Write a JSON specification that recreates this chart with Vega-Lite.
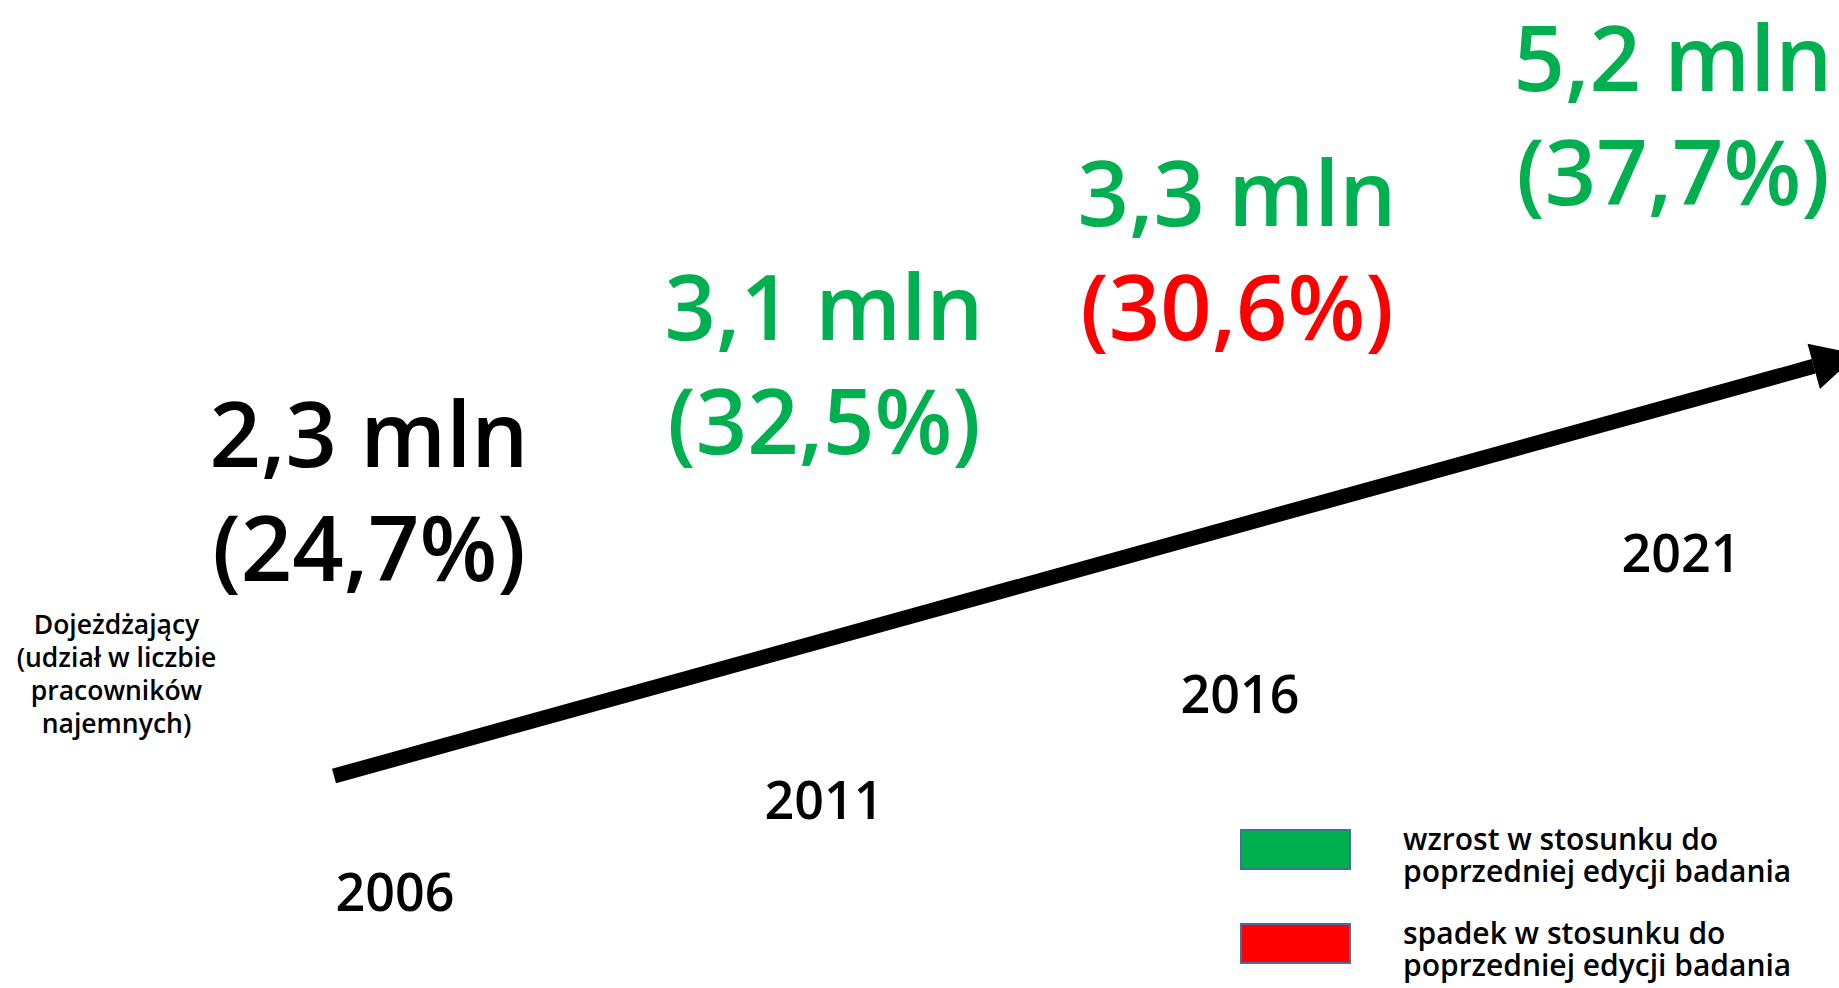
{
  "$schema": "https://vega.github.io/schema/vega-lite/v6.json",
  "width": 1839,
  "height": 988,
  "autosize": {"type": "none"},
  "padding": 0,
  "background": "#ffffff",
  "config": {
    "view": {"stroke": null},
    "text": {"font": "Open Sans"},
    "legend": {
      "orient": "none",
      "legendX": 1240,
      "legendY": 794,
      "padding": 0,
      "symbolType": "M-1,-0.358H1V0.358H-1Z",
      "symbolSize": 11881,
      "symbolStrokeColor": "#41719C",
      "symbolStrokeWidth": 2,
      "symbolOpacity": 1,
      "labelFont": "Open Sans",
      "labelFontWeight": 600,
      "labelFontSize": 30,
      "labelLineHeight": 35,
      "labelOffset": 52,
      "labelLimit": 0,
      "labelBaseline": "alphabetic",
      "labelColor": "#000000",
      "rowPadding": -14
    }
  },
  "datasets": {
    "editions": [
      {"rok": 2006, "liczba": "2,3 mln", "udzial": "(24,7%)", "zmianaLiczby": "brak", "zmianaUdzialu": "brak"},
      {"rok": 2011, "liczba": "3,1 mln", "udzial": "(32,5%)", "zmianaLiczby": "wzrost", "zmianaUdzialu": "wzrost"},
      {"rok": 2016, "liczba": "3,3 mln", "udzial": "(30,6%)", "zmianaLiczby": "wzrost", "zmianaUdzialu": "spadek"},
      {"rok": 2021, "liczba": "5,2 mln", "udzial": "(37,7%)", "zmianaLiczby": "wzrost", "zmianaUdzialu": "wzrost"}
    ],
    "trend": [{"t": 0}, {"t": 1}]
  },
  "resolve": {"scale": {"x": "independent", "y": "independent"}},
  "layer": [
    {
      "data": {"name": "trend"},
      "mark": {"type": "line", "color": "#000000", "strokeWidth": 15, "strokeCap": "butt"},
      "encoding": {
        "x": {"field": "t", "type": "quantitative", "scale": {"domain": [0, 1], "range": [334, 1813.7]}, "axis": null},
        "y": {"field": "t", "type": "quantitative", "scale": {"domain": [0, 1], "range": [776, 366.3]}, "axis": null}
      }
    },
    {
      "data": {"name": "trend"},
      "transform": [{"filter": "datum.t == 1"}],
      "mark": {"type": "point", "shape": "M-1,-1.03L1,0L-1,1.03Z", "size": 2079, "filled": true, "color": "#000000", "opacity": 1, "angle": 344.7, "xOffset": 22, "yOffset": -6},
      "encoding": {
        "x": {"field": "t", "type": "quantitative", "scale": {"domain": [0, 1], "range": [334, 1813.7]}, "axis": null},
        "y": {"field": "t", "type": "quantitative", "scale": {"domain": [0, 1], "range": [776, 366.3]}, "axis": null}
      }
    },
    {
      "data": {"name": "editions"},
      "mark": {"type": "text", "font": "Open Sans", "fontSize": 52, "fontWeight": 600, "align": "center", "baseline": "alphabetic", "color": "#000000"},
      "encoding": {
        "text": {"field": "rok", "type": "nominal"},
        "x": {"field": "rok", "type": "quantitative", "scale": {"domain": [2006, 2011, 2016, 2021], "range": [395, 824, 1240, 1681]}, "axis": null},
        "y": {
          "field": "rok", "type": "quantitative",
          "scale": {"domain": [2006, 2011, 2016, 2021], "range": [911, 819, 713, 572]},
          "axis": {
            "orient": "left", "domain": false, "ticks": false, "labels": false, "grid": false,
            "title": ["Dojeżdżający", "(udział w liczbie", "pracowników", "najemnych)"],
            "titleAngle": 0, "titleX": 116, "titleY": 633, "titleAlign": "center", "titleBaseline": "alphabetic",
            "titleFont": "Open Sans", "titleFontSize": 26.5, "titleFontWeight": 600, "titleLineHeight": 33, "titleColor": "#000000"
          }
        }
      }
    },
    {
      "data": {"name": "editions"},
      "mark": {"type": "text", "font": "Open Sans", "fontSize": 90, "fontWeight": 600, "align": "center", "baseline": "alphabetic"},
      "encoding": {
        "text": {"field": "liczba", "type": "nominal"},
        "x": {"field": "rok", "type": "quantitative", "scale": {"domain": [2006, 2011, 2016, 2021], "range": [369, 824, 1237, 1673]}, "axis": null},
        "y": {"field": "rok", "type": "quantitative", "scale": {"domain": [2006, 2011, 2016, 2021], "range": [467, 340, 226, 91]}, "axis": null},
        "color": {
          "field": "zmianaLiczby", "type": "nominal",
          "scale": {"domain": ["wzrost", "spadek", "brak"], "range": ["#00B050", "#FF0000", "#000000"]},
          "legend": {"title": null, "values": ["wzrost", "spadek"], "labelExpr": "datum.value == 'wzrost' ? ['wzrost w stosunku do', 'poprzedniej edycji badania'] : ['spadek w stosunku do', 'poprzedniej edycji badania']"}
        }
      }
    },
    {
      "data": {"name": "editions"},
      "mark": {"type": "text", "font": "Open Sans", "fontSize": 90, "fontWeight": 600, "align": "center", "baseline": "alphabetic", "dy": 114},
      "encoding": {
        "text": {"field": "udzial", "type": "nominal"},
        "x": {"field": "rok", "type": "quantitative", "scale": {"domain": [2006, 2011, 2016, 2021], "range": [369, 824, 1237, 1673]}, "axis": null},
        "y": {"field": "rok", "type": "quantitative", "scale": {"domain": [2006, 2011, 2016, 2021], "range": [467, 340, 226, 91]}, "axis": null},
        "color": {
          "field": "zmianaUdzialu", "type": "nominal",
          "scale": {"domain": ["wzrost", "spadek", "brak"], "range": ["#00B050", "#FF0000", "#000000"]},
          "legend": {"title": null, "values": ["wzrost", "spadek"], "labelExpr": "datum.value == 'wzrost' ? ['wzrost w stosunku do', 'poprzedniej edycji badania'] : ['spadek w stosunku do', 'poprzedniej edycji badania']"}
        }
      }
    }
  ]
}
